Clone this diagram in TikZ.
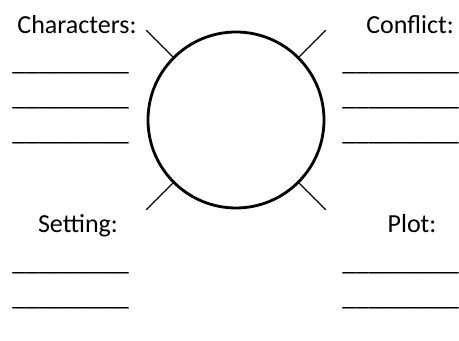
\documentclass[tikz,border=0pt]{standalone}
\usepackage{fontspec}
\setmainfont{Carlito}
\usetikzlibrary{positioning}

\begin{document}
\begin{tikzpicture}[font=\fontsize{14.8}{17}\selectfont,label/.style={anchor=base,inner sep=0pt},blank/.style={anchor=base west,inner sep=0pt},spoke/.style={line width=0.7pt}]
\useasboundingbox (0,0) rectangle (9.18,6.82);
\node[circle,draw,line width=1.6pt,minimum size=3.52cm,inner sep=0pt] (c) at (4.72,4.42) {};
\node[label] (chars) at (1.54,6.14) {Characters:};
\node[label] (confl) at (8.2,6.14) {Conflict:};
\node[label] (sett) at (1.56,2.16) {Setting:};
\node[label] (plot) at (8.24,2.16) {Plot:};
\foreach \y [count=\i] in {5.40,4.70,4.00}{\node[blank] (cl\i) at (0.24,\y) {\_\_\_\_\_\_\_\_\_};}
\foreach \y [count=\i] in {5.40,4.70,4.00}{\node[blank] (fl\i) at (6.84,\y) {\_\_\_\_\_\_\_\_\_};}
\foreach \y [count=\i] in {1.40,0.70}{\node[blank] (sl\i) at (0.24,\y) {\_\_\_\_\_\_\_\_\_};}
\foreach \y [count=\i] in {1.40,0.70}{\node[blank] (pl\i) at (6.84,\y) {\_\_\_\_\_\_\_\_\_};}
% spokes out of the circle
\foreach \a in {45,135,225,315}{\path (c.center) ++(\a:2.54) coordinate (s\a); \draw[spoke] (c.\a) -- (s\a);}
\end{tikzpicture}
\end{document}
